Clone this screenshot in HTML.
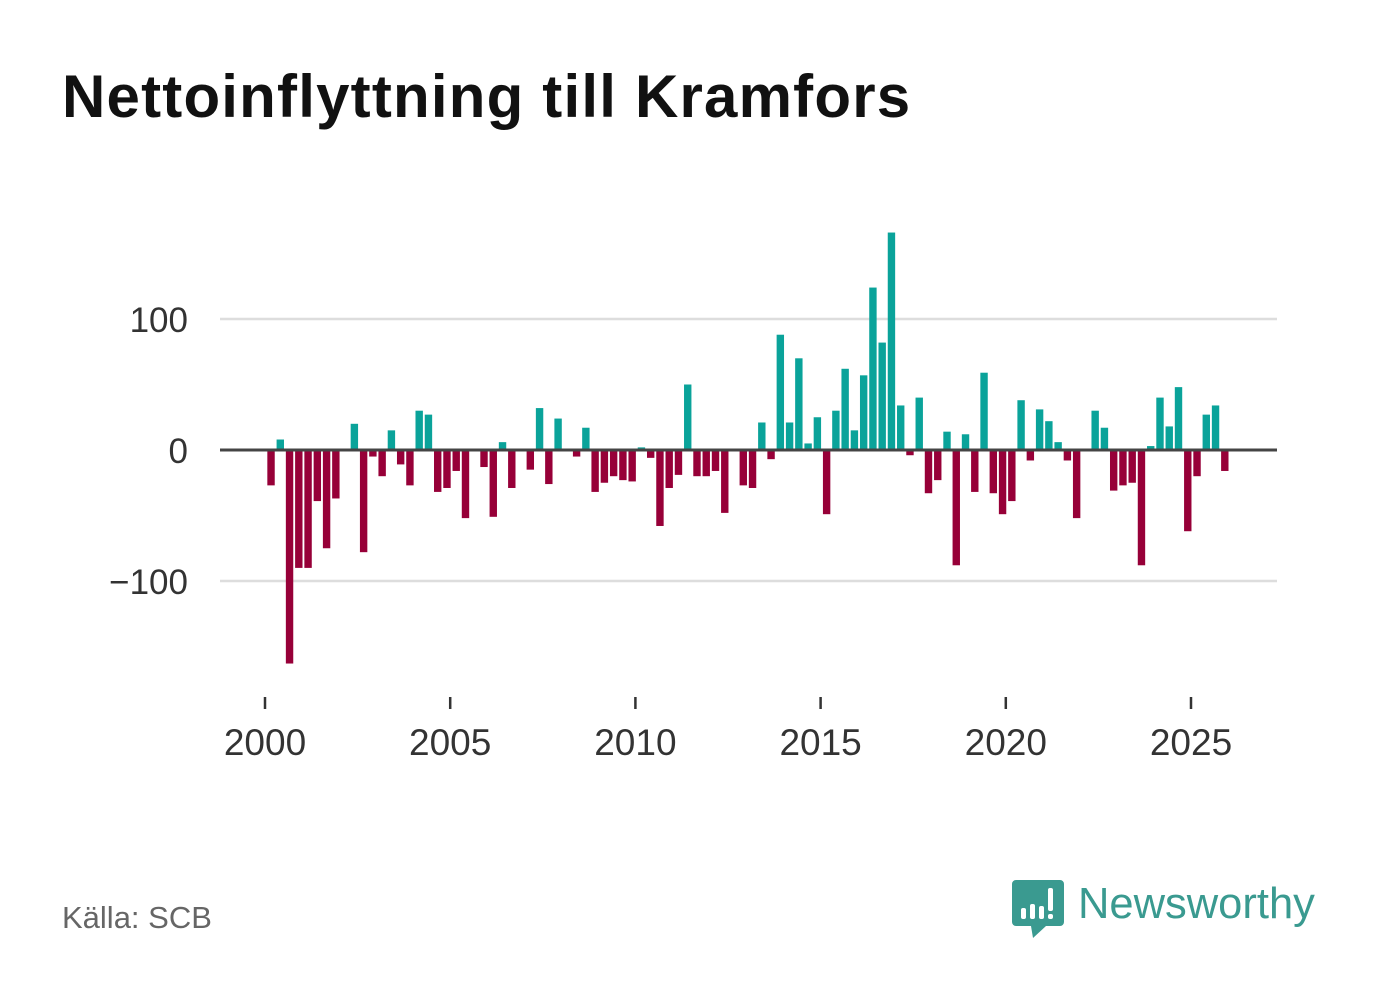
<!DOCTYPE html>
<html><head><meta charset="utf-8"><style>
html,body{margin:0;padding:0;background:#fff;}
body{width:1382px;height:999px;position:relative;overflow:hidden;font-family:"Liberation Sans",sans-serif;}
#title{position:absolute;left:62px;top:62px;font-size:60px;font-weight:bold;color:#111;letter-spacing:1.2px;}
#source{position:absolute;left:62px;top:900px;font-size:31px;color:#666;}
svg{position:absolute;left:0;top:0;}
</style></head><body>
<div id="title">Nettoinflyttning till Kramfors</div>
<svg id="chart" width="1382" height="999"></svg>
<div id="source">Källa: SCB</div>
<svg width="1382" height="999" style="pointer-events:none">
  <path d="M1016 880 h44 a4 4 0 0 1 4 4 v38 a4 4 0 0 1 -4 4 h-14 l-13 12 l-2 -12 h-15 a4 4 0 0 1 -4 -4 v-38 a4 4 0 0 1 4 -4z" fill="#3a9a90"/>
  <rect x="1021" y="908" width="5" height="11" rx="2" fill="#fff"/>
  <rect x="1030" y="904" width="5" height="15" rx="2" fill="#fff"/>
  <rect x="1039" y="906" width="5" height="13" rx="2" fill="#fff"/>
  <rect x="1048" y="888" width="5" height="23" rx="2" fill="#fff"/>
  <rect x="1048" y="914" width="5" height="5" rx="2" fill="#fff"/>
  <text x="1078" y="918" font-family="Liberation Sans, sans-serif" font-size="43.5" fill="#3a9a90">Newsworthy</text>
</svg>
<script>
const years = [2000, 2005, 2010, 2015, 2020, 2025];
const yTicks = [100, 0, -100];
const yTickLabels = ["100", "0", "\u2212100"];
const values = [
-27,8,-163,-90,-90,-39,-75,-37,
0,20,-78,-5,-20,15,-11,-27,
30,27,-32,-29,-16,-52,0,-13,
-51,6,-29,0,-15,32,-26,24,
0,-5,17,-32,-25,-20,-23,-24,
2,-6,-58,-29,-19,50,-20,-20,
-16,-48,0,-27,-29,21,-7,88,
21,70,5,25,-49,30,62,15,
57,124,82,166,34,-4,40,-33,
-23,14,-88,12,-32,59,-33,-49,
-39,38,-8,31,22,6,-8,-52,
0,30,17,-31,-27,-25,-88,3,
40,18,48,-62,-20,27,34,-16
];
const NS="http://www.w3.org/2000/svg";
const svg=document.getElementById('chart');
const x0=266.4, pxPerYear=37.04;
const xYear=y=>x0+(y-2000)*pxPerYear;
const yVal=v=>450-v*1.31;
function mk(tag,attrs){const e=document.createElementNS(NS,tag);for(const k in attrs)e.setAttribute(k,attrs[k]);svg.appendChild(e);return e;}
yTicks.forEach((t,i)=>{
  if(t!==0){const g=mk('line',{x1:220,x2:1277,y1:yVal(t),y2:yVal(t),stroke:'#dddddd','stroke-width':2.5});
  
  }
  const l=mk('text',{x:188,y:yVal(t)+13,'text-anchor':'end','font-size':35,fill:'#333'});
  l.textContent=yTickLabels[i];
  
  
});
values.forEach((v,i)=>{
  if(v===0)return;
  const cx=xYear(2000+(i+0.5)/4);
  const y1=yVal(Math.max(v,0)), y2=yVal(Math.min(v,0));
  const r=mk('rect',{x:cx-3.7,y:y1,width:7.4,height:y2-y1,fill:v>0?'#0aa39a':'#970038'});
  
  
});
const z=mk('line',{x1:220,x2:1277,y1:450,y2:450,stroke:'#444','stroke-width':3});


years.forEach(y=>{
  const x=xYear(y)-1.4;
  const t=mk('line',{x1:x,x2:x,y1:697,y2:709,stroke:'#333','stroke-width':2.5});
  
  
  const l=mk('text',{x:x,y:755,'text-anchor':'middle','font-size':37,fill:'#333'});
  l.textContent=y;
  
  
});
</script>
</body></html>
